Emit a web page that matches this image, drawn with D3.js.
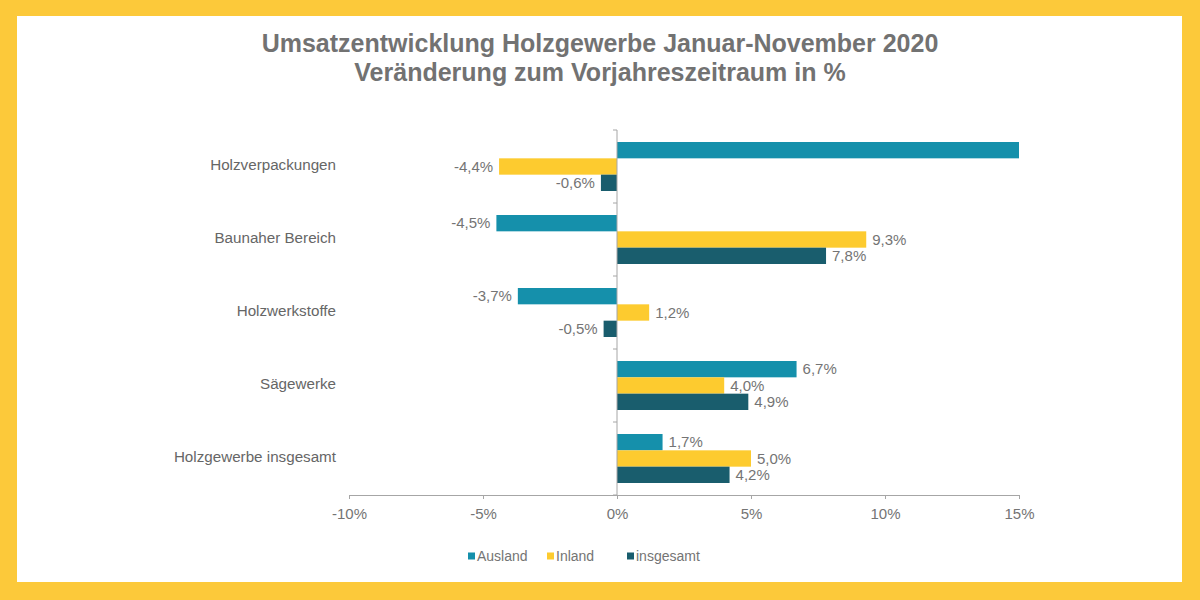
<!DOCTYPE html>
<html><head><meta charset="utf-8">
<script src="https://cdn.jsdelivr.net/npm/d3@7"></script>
<style>html,body{margin:0;padding:0;background:#fcc93a;}svg{display:block;}</style>
</head><body>
<svg id="c" width="1200" height="600"></svg>
<script>
const categories = ["Holzverpackungen","Baunaher Bereich","Holzwerkstoffe","Sägewerke","Holzgewerbe insgesamt"];
const seriesNames = ["Ausland","Inland","insgesamt"];
const ausland = [15.0, -4.5, -3.7, 6.7, 1.7];
const inland = [-4.4, 9.3, 1.2, 4.0, 5.0];
const insgesamt = [-0.6, 7.8, -0.5, 4.9, 4.2];
const showLabel = [[false,true,true,true,true],[true,true,true,true,true],[true,true,true,true,true]];
const xTicks = [-10,-5,0,5,10,15];
const colors = ["#1590ab","#fdcb2f","#195d6d"];
const titleLines = ["Umsatzentwicklung Holzgewerbe Januar-November 2020","Veränderung zum Vorjahreszeitraum in %"];

const values = [ausland, inland, insgesamt];
const svg = d3.select("#c");
svg.append("rect").attr("x",17).attr("y",16).attr("width",1165).attr("height",566).attr("fill","#fff");

const x = d3.scaleLinear().domain([-10,15]).range([349,1019]);
const y = d3.scaleBand().domain(categories).range([130,495]);
const groupH = 49;
const yInner = d3.scaleBand().domain(seriesNames).range([0,groupH]);

const font = "'Liberation Sans', Arial, sans-serif";
const fmt = v => d3.format(".1f")(v).replace("−","-").replace(".",",")+"%";

// title
svg.append("g").selectAll("text").data(titleLines).join("text")
  .attr("x",600).attr("y",(d,i)=>52+i*29).attr("text-anchor","middle")
  .attr("font-family",font).attr("font-weight","bold").attr("font-size",25)
  .attr("fill","#727272").text(d=>d);

// bars
const groups = svg.append("g").selectAll("g").data(categories).join("g")
  .attr("transform",c=>`translate(0,${y(c)+y.bandwidth()/2-groupH/2})`);
seriesNames.forEach((s,si)=>{
  groups.append("rect")
    .attr("x",(c,ci)=>x(Math.min(0,values[si][ci])))
    .attr("y",yInner(s)).attr("height",yInner.bandwidth())
    .attr("width",(c,ci)=>Math.abs(x(values[si][ci])-x(0)))
    .attr("fill",colors[si]);
  groups.append("text")
    .attr("x",(c,ci)=>values[si][ci]<0? x(values[si][ci])-6 : x(values[si][ci])+6)
    .attr("y",yInner(s)+yInner.bandwidth()/2).attr("dy","0.35em")
    .attr("text-anchor",(c,ci)=>values[si][ci]<0?"end":"start")
    .attr("font-family",font).attr("font-size",15).attr("fill","#747474")
    .text((c,ci)=>showLabel[si][ci] ? fmt(values[si][ci]) : "");
});

// x axis
const xAxis = svg.append("g").attr("transform","translate(0,495)")
  .call(d3.axisBottom(x).tickValues(xTicks).tickSize(4).tickSizeOuter(4).tickFormat(d=>d+"%"));
xAxis.select(".domain").attr("stroke","#a6a6a6");
xAxis.selectAll(".tick line").attr("stroke","#a6a6a6");
xAxis.selectAll(".tick text").attr("font-family",font).attr("font-size",15).attr("fill","#747474").attr("y",13).attr("dy","0.71em");

// y axis at 0
const bounds = categories.map(c=>y(c)).concat([495]);
const yAxis = svg.append("g");
yAxis.append("line").attr("x1",x(0)).attr("x2",x(0)).attr("y1",130).attr("y2",495).attr("stroke","#a6a6a6");
yAxis.selectAll("line.t").data(bounds).join("line").attr("class","t")
  .attr("x1",x(0)-4).attr("x2",x(0)).attr("y1",d=>d).attr("y2",d=>d).attr("stroke","#a6a6a6");

// category labels
svg.append("g").selectAll("text").data(categories).join("text")
  .attr("x",336).attr("y",c=>y(c)+y.bandwidth()/2-1.5).attr("dy","0.35em")
  .attr("text-anchor","end").attr("font-family",font).attr("font-size",15.2)
  .attr("fill","#666").text(d=>d);

// legend
const legX = [468,547,627];
const leg = svg.append("g").selectAll("g").data(seriesNames).join("g")
  .attr("transform",(d,i)=>`translate(${legX[i]},556)`);
leg.append("rect").attr("x",0).attr("y",-3.5).attr("width",7).attr("height",7).attr("fill",(d,i)=>colors[i]);
leg.append("text").attr("x",9).attr("y",0).attr("dy","0.35em")
  .attr("font-family",font).attr("font-size",14).attr("fill","#747474").text(d=>d);
</script>
</body></html>
